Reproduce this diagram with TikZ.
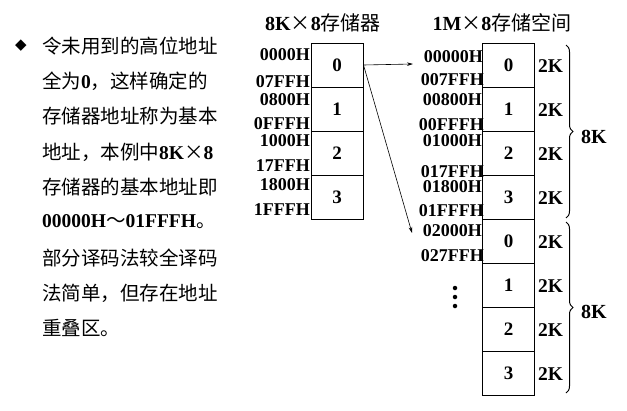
\documentclass[tikz,border=0pt]{standalone}
\usepackage{fontspec}
\setmainfont{Liberation Serif}
\newfontfamily\cjk{Noto Sans CJK SC}
\newfontfamily\djv{DejaVu Sans}
\usetikzlibrary{arrows.meta,decorations.pathreplacing}
\newcommand{\zh}[1]{{\cjk\mdseries #1}}
\begin{document}
\begin{tikzpicture}[x=1pt,y=-1pt,
  cell/.style={draw, line width=1pt, minimum width=52pt, minimum height=44pt, inner sep=0pt, font=\fontsize{19}{19}\selectfont\bfseries},
  addr/.style={anchor=east, inner sep=0pt, font=\fontsize{18}{18}\selectfont\bfseries},
  kk/.style={anchor=west, inner sep=0pt, font=\fontsize{19.5}{19.5}\selectfont\bfseries},
  txt/.style={anchor=west, inner sep=0pt, font=\fontsize{19.5}{19.5}\selectfont\bfseries},
  ttl/.style={inner sep=0pt, font=\fontsize{20}{20}\selectfont\bfseries},
  arr/.style={-{Stealth[length=6pt,width=3.5pt]}, line width=0.6pt},
  brc/.style={decorate, decoration={brace, amplitude=7pt}, line width=1pt},
  dotc/.style={fill, circle, inner sep=0pt, minimum size=4.5pt}]
\useasboundingbox (0,0) rectangle (627,410);
% left text
\node[inner sep=0pt, font=\djv\fontsize{15}{15}\selectfont] (bul) at (21,46) {◆};
\node[txt] (t1) at (42,46) {\zh{令未用到的高位地址}};
\node[txt] (t2) at (42,81) {\zh{全为}0\zh{，这样确定的}};
\node[txt] (t3) at (42,116) {\zh{存储器地址称为基本}};
\node[txt] (t4) at (42,152) {\zh{地址，本例中}8K\zh{×}8};
\node[txt] (t5) at (42,187) {\zh{存储器的基本地址即}};
\node[txt] (t6) at (42,222) {00000H\zh{～}01FFFH\zh{。}};
\node[txt] (t7) at (42,258) {\zh{部分译码法较全译码}};
\node[txt] (t8) at (42,293) {\zh{法简单，但存在地址}};
\node[txt] (t9) at (42,328) {\zh{重叠区。}};
% titles
\node[ttl] (ta) at (323,23) {8K\zh{×}8\zh{存储器}};
\node[ttl] (tb) at (502,23) {1M\zh{×}8\zh{存储空间}};
% left memory
\node[cell] (L0) at (337,65) {0};
\node[cell] (L1) at (337,109) {1};
\node[cell] (L2) at (337,153) {2};
\node[cell] (L3) at (337,197) {3};
% left addresses
\node[addr] (la0) at (310,55) {0000H};
\node[addr] (la1) at (310,82) {07FFH};
\node[addr] (la2) at (310,100) {0800H};
\node[addr] (la3) at (310,124) {0FFFH};
\node[addr] (la4) at (310,141) {1000H};
\node[addr] (la5) at (310,166) {17FFH};
\node[addr] (la6) at (310,185) {1800H};
\node[addr] (la7) at (310,210) {1FFFH};
% right memory
\foreach \i/\t in {0/0,1/1,2/2,3/3,4/0,5/1,6/2,7/3}{
  \node[cell] (R\i) at (508.5,65+44*\i) {\t};
  \node[kk] (K\i) at (538,66+44*\i) {2K};
}
% right addresses
\node[addr] (ra0) at (483,57) {00000H};
\node[addr] (ra1) at (484,80) {007FFH};
\node[addr] (ra2) at (482,100) {00800H};
\node[addr] (ra3) at (484,125) {00FFFH};
\node[addr] (ra4) at (482,140.5) {01000H};
\node[addr] (ra5) at (484,172) {017FFH};
\node[addr] (ra6) at (482,187) {01800H};
\node[addr] (ra7) at (484,210.5) {01FFFH};
\node[addr] (ra8) at (482,231) {02000H};
\node[addr] (ra9) at (484,256) {027FFH};
% dots
\node[dotc] (d1) at (455,288) {};
\node[dotc] (d2) at (455,297) {};
\node[dotc] (d3) at (455,306) {};
% braces
\coordinate (b1s) at (566,45);
\coordinate (b1e) at (566,218);
\coordinate (b2s) at (566,222);
\coordinate (b2e) at (566,393);
\draw[brc] (b1s) -- (b1e);
\draw[brc] (b2s) -- (b2e);
\node[kk, font=\fontsize{20}{20}\selectfont\bfseries] (e1) at (581,137) {8K};
\node[kk, font=\fontsize{20}{20}\selectfont\bfseries] (e2) at (581,312) {8K};
% arrows
\coordinate (a0) at (L0.east);
\coordinate (a1) at (413,64);
\coordinate (a2) at (412,233);
\draw[arr] (a0) -- (a1);
\draw[arr] (a0) -- (a2);
\end{tikzpicture}
\end{document}
